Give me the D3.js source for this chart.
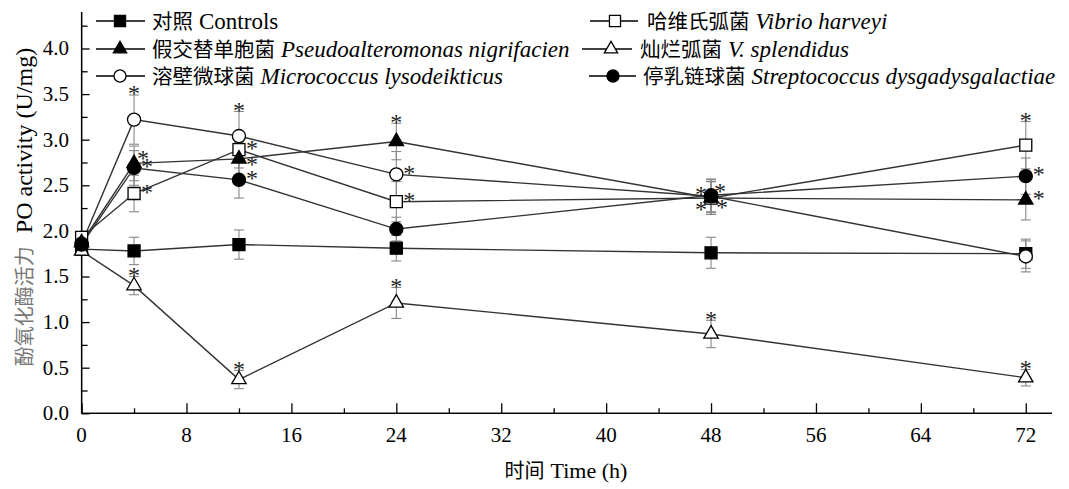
<!DOCTYPE html>
<html><head><meta charset="utf-8">
<script src="https://cdn.jsdelivr.net/npm/d3@7"></script>
<style>body{margin:0;background:#fff}</style>
</head><body><svg id="chart" width="1069" height="489"></svg>
<script>
// ---------- data ----------
const times = [0, 4, 12, 24, 48, 72];
const xTicks = [0, 8, 16, 24, 32, 40, 48, 56, 64, 72];
const yTicks = [0, 0.5, 1.0, 1.5, 2.0, 2.5, 3.0, 3.5, 4.0];

const controlsMean = [1.80, 1.78, 1.85, 1.81, 1.76, 1.75];
const controlsErr  = [0.06, 0.15, 0.16, 0.14, 0.17, 0.16];
const controlsSig  = [0, 0, 0, 0, 0, 0];

const vibrioMean = [1.93, 2.41, 2.89, 2.32, 2.36, 2.94];
const vibrioErr  = [0.05, 0.20, 0.20, 0.22, 0.18, 0.26];
const vibrioSig  = [0, 1, 1, 1, 1, 1];

const pseudoMean = [1.87, 2.74, 2.79, 2.98, 2.36, 2.34];
const pseudoErr  = [0.05, 0.19, 0.18, 0.20, 0.18, 0.22];
const pseudoSig  = [0, 1, 1, 1, 1, 1];

const splendMean = [1.78, 1.40, 0.37, 1.21, 0.87, 0.39];
const splendErr  = [0.05, 0.10, 0.10, 0.17, 0.15, 0.09];
const splendSig  = [0, 1, 1, 1, 1, 1];

const microMean = [1.86, 3.22, 3.04, 2.62, 2.38, 1.72];
const microErr  = [0.05, 0.27, 0.27, 0.25, 0.18, 0.17];
const microSig  = [0, 1, 1, 1, 1, 0];

const strepMean = [1.85, 2.69, 2.56, 2.02, 2.39, 2.60];
const strepErr  = [0.05, 0.19, 0.20, 0.13, 0.18, 0.20];
const strepSig  = [0, 1, 1, 0, 1, 1];

const seriesCn    = ["对照", "哈维氏弧菌", "假交替单胞菌", "灿烂弧菌", "溶壁微球菌", "停乳链球菌"];
const seriesLatin = ["Controls", "Vibrio harveyi", "Pseudoalteromonas nigrifacien", "V. splendidus", "Micrococcus lysodeikticus", "Streptococcus dysgadysgalactiae"];

// ---------- style ----------
const styles = [
  {shape: "square",   filled: true,  italic: false, legend: {x0: 96,  x1: 145, m: 120, t: 152, row: 0}},
  {shape: "square",   filled: false, italic: true,  legend: {x0: 590, x1: 638, m: 615, t: 647, row: 0}},
  {shape: "triangle", filled: true,  italic: true,  legend: {x0: 96,  x1: 145, m: 120, t: 152, row: 1}},
  {shape: "triangle", filled: false, italic: true,  legend: {x0: 582, x1: 632, m: 611, t: 640, row: 1}},
  {shape: "circle",   filled: false, italic: true,  legend: {x0: 96,  x1: 145, m: 120, t: 152, row: 2}},
  {shape: "circle",   filled: true,  italic: true,  legend: {x0: 589, x1: 636, m: 613, t: 643, row: 2}}
];
// asterisk placement per point
const starPlace = [
  [null, null, null, null, null, null],
  [null, "r", "r", "r", "ll", "t"],
  [null, "ru", "rd", "t", "ul", "r"],
  [null, "t", "t", "t", "t", "t"],
  [null, "t", "t", "r", "ur", null],
  [null, "r", "r", null, "lr", "r"]
];
const starOffsets = {r: [13, -5], rd: [13, 2], ru: [9, -9], ul: [-10, -7], ur: [9, -9], ll: [-10, 8], lr: [11, 8]};

const means = [controlsMean, vibrioMean, pseudoMean, splendMean, microMean, strepMean];
const errs  = [controlsErr, vibrioErr, pseudoErr, splendErr, microErr, strepErr];
const sigs  = [controlsSig, vibrioSig, pseudoSig, splendSig, microSig, strepSig];

const series = means.map((m, i) => ({
  cn: seriesCn[i], latin: seriesLatin[i], style: styles[i],
  points: times.map((t, j) => ({t, v: m[j], e: errs[i][j], sig: sigs[i][j], place: starPlace[i][j]}))
}));

const serif = "Liberation Serif";
const cjk = "Noto Sans CJK SC";

const svg = d3.select("#chart");
svg.append("rect").attr("width", 1069).attr("height", 489).attr("fill", "#fff");

const x = d3.scaleLinear().domain([0, 74]).range([81.6, 1052]);
const y = d3.scaleLinear().domain([0, 4.4]).range([413.3, 12]);

// ---------- axes ----------
const gx = svg.append("g").attr("transform", `translate(0,${y(0)})`);
gx.call(d3.axisBottom(x).tickValues(xTicks).tickSize(-10).tickFormat(""));
gx.append("g").call(d3.axisBottom(x).tickValues(d3.range(4, 72, 8)).tickSize(-5).tickFormat(""));
gx.selectAll(".domain").attr("d", `M${x(0)},0H${x(74)}`);
gx.selectAll("line, path").attr("stroke", "#000").attr("stroke-width", 1.3);
svg.append("g").selectAll("text").data(xTicks).join("text")
  .attr("x", d => x(d)).attr("y", 442).attr("text-anchor", "middle")
  .style("font-family", serif).style("font-size", "21px").text(d => d);

const gy = svg.append("g").attr("transform", `translate(${x(0)},0)`);
gy.call(d3.axisLeft(y).tickValues(yTicks).tickSize(-8).tickFormat(""));
gy.append("g").call(d3.axisLeft(y).tickValues(d3.range(0.25, 4.4, 0.5)).tickSize(-6).tickFormat(""));
gy.selectAll(".domain").attr("d", `M0,${y(0)}V${y(4.4)}`);
gy.selectAll("line, path").attr("stroke", "#000").attr("stroke-width", 1.3);
svg.append("g").selectAll("text").data(yTicks).join("text")
  .attr("x", 69).attr("y", d => y(d) + 7).attr("text-anchor", "end")
  .style("font-family", serif).style("font-size", "21px").text(d => d3.format(".1f")(d));

// axis titles
const xt = svg.append("text").attr("x", 566).attr("y", 478).attr("text-anchor", "middle");
xt.append("tspan").style("font-family", cjk).style("font-size", "20px").text("时间");
xt.append("tspan").style("font-family", serif).style("font-size", "22px").attr("dx", 6).text("Time (h)");

const yt = svg.append("text").attr("transform", "translate(32,207) rotate(-90)").attr("text-anchor", "middle");
yt.append("tspan").style("font-family", cjk).style("font-size", "20px").attr("fill", "#777").text("酚氧化酶活力");
yt.append("tspan").style("font-family", serif).style("font-size", "24px").attr("dx", 13).text("PO activity (U/mg)");

// ---------- marks ----------
function symPath(shape, scale) {
  const t = shape === "square" ? d3.symbolSquare : shape === "triangle" ? d3.symbolTriangle : d3.symbolCircle;
  const size = shape === "square" ? 144 : shape === "triangle" ? 90 : 135;
  return d3.symbol().type(t).size(size * scale)();
}

const line = d3.line().x(d => x(d.t)).y(d => y(d.v));
svg.append("g").selectAll("path").data(series).join("path")
  .attr("d", d => line(d.points)).attr("fill", "none")
  .attr("stroke", "#333").attr("stroke-width", 1.4);

// error bars
const eb = svg.append("g").attr("stroke", "#888").attr("stroke-width", 1.1);
series.forEach(s => {
  s.points.forEach(p => {
    eb.append("line").attr("x1", x(p.t)).attr("x2", x(p.t)).attr("y1", y(p.v - p.e)).attr("y2", y(p.v + p.e));
    [p.v - p.e, p.v + p.e].forEach(v => {
      eb.append("line").attr("x1", x(p.t) - 5).attr("x2", x(p.t) + 5).attr("y1", y(v)).attr("y2", y(v));
    });
  });
});

// markers
series.forEach(s => {
  svg.append("g").selectAll("path").data(s.points).join("path")
    .attr("transform", p => `translate(${x(p.t)},${y(p.v)})`)
    .attr("d", symPath(s.style.shape, 1))
    .attr("fill", s.style.filled ? "#000" : "#fff")
    .attr("stroke", "#000").attr("stroke-width", 1.3);
});

// asterisks
const fsStar = 24;
series.forEach(s => {
  s.points.filter(p => p.sig && p.place).forEach(p => {
    let cx, cy;
    if (p.place === "t") { cx = x(p.t); cy = y(p.v + p.e) - 5; }
    else { const o = starOffsets[p.place]; cx = x(p.t) + o[0]; cy = y(p.v) + o[1]; }
    svg.append("text").attr("x", cx).attr("y", cy + 0.47 * fsStar)
      .attr("text-anchor", "middle").style("font-family", serif).style("font-size", fsStar + "px")
      .attr("fill", "#222").text("*");
  });
});

// ---------- legend ----------
const rowY = [21, 49, 76];
series.forEach(s => {
  const L = s.style.legend, ry = rowY[L.row];
  const g = svg.append("g");
  g.append("line").attr("x1", L.x0).attr("x2", L.x1).attr("y1", ry).attr("y2", ry)
    .attr("stroke", "#000").attr("stroke-width", 1.3);
  g.append("path").attr("transform", `translate(${L.m},${ry})`).attr("d", symPath(s.style.shape, 0.85))
    .attr("fill", s.style.filled ? "#000" : "#fff").attr("stroke", "#000").attr("stroke-width", 1.3);
  const t = g.append("text").attr("x", L.t).attr("y", ry + 8);
  t.append("tspan").style("font-family", cjk).style("font-size", "20.5px").text(s.cn);
  t.append("tspan").style("font-family", serif).style("font-size", "23px").attr("dx", 6)
    .style("font-style", s.style.italic ? "italic" : "normal").text(s.latin);
});
</script>
</body></html>
